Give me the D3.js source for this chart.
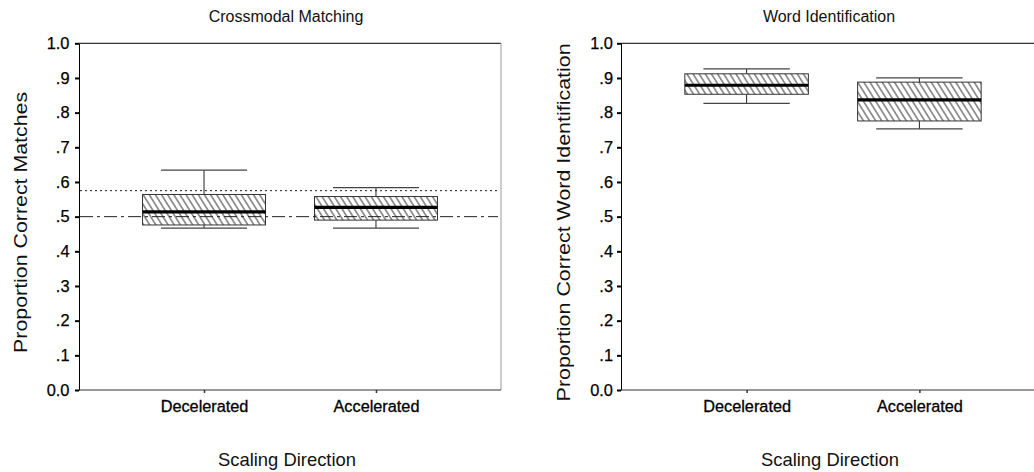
<!DOCTYPE html>
<html>
<head>
<meta charset="utf-8">
<script src="https://cdn.jsdelivr.net/npm/d3@7/dist/d3.min.js"></script>
<style>
  html, body { margin: 0; padding: 0; background: #fff; overflow: hidden; }
  svg { display: block; font-family: "Liberation Sans", Arial, sans-serif; }
</style>
</head>
<body>
<svg id="chart" width="1034" height="472"></svg>
<script>
// Scaling direction conditions
const categories = ["Decelerated", "Accelerated"];

// Crossmodal matching: box-plot summaries (proportion correct)
const matchingLow    = [0.467, 0.467];
const matchingQ1     = [0.476, 0.490];
const matchingMedian = [0.514, 0.527];
const matchingQ3     = [0.564, 0.558];
const matchingHigh   = [0.634, 0.584];

// Word identification: box-plot summaries (proportion correct)
const wordLow    = [0.827, 0.753];
const wordQ1     = [0.853, 0.776];
const wordMedian = [0.879, 0.837];
const wordQ3     = [0.912, 0.888];
const wordHigh   = [0.926, 0.900];

// Reference levels on the matching panel: chance and criterion
const chanceLevel = 0.5;
const criterionLevel = 0.575;

// Y axis ticks
const yTicks = [0, 0.1, 0.2, 0.3, 0.4, 0.5, 0.6, 0.7, 0.8, 0.9, 1.0];
const yTickLabels = ["0.0", ".1", ".2", ".3", ".4", ".5", ".6", ".7", ".8", ".9", "1.0"];

const titles = ["Crossmodal Matching", "Word Identification"];
const yLabels = ["Proportion Correct Matches", "Proportion Correct Word Identification"];
const xLabel = "Scaling Direction";

function summaries(low, q1, med, q3, high) {
  return categories.map((c, i) => ({ cat: c, low: low[i], q1: q1[i], med: med[i], q3: q3[i], high: high[i] }));
}

const panels = [
  {
    title: titles[0], ylabel: yLabels[0], left: 79, right: 501,
    yLabelX: 26.5, yLabelLen: 261, tickPad: 5.5,
    boxes: summaries(matchingLow, matchingQ1, matchingMedian, matchingQ3, matchingHigh),
    refs: [
      { v: criterionLevel, dash: "2,3" },
      { v: chanceLevel, dash: "13,4,3,4" }
    ]
  },
  {
    title: titles[1], ylabel: yLabels[1], left: 621, right: 1045,
    yLabelX: 569.5, yLabelLen: 358, tickPad: 4,
    boxes: summaries(wordLow, wordQ1, wordMedian, wordQ3, wordHigh),
    refs: []
  }
];

const plotTop = 43.3, plotBottom = 390;
const svg = d3.select("#chart");

// Diagonal hatch fill for boxes
const defs = svg.append("defs");
const hp = 5.2;
const pat = defs.append("pattern")
  .attr("id", "hatch")
  .attr("patternUnits", "userSpaceOnUse")
  .attr("width", hp).attr("height", hp)
  .attr("patternTransform", "rotate(-32)");
pat.append("rect").attr("width", hp).attr("height", hp).attr("fill", "#fff");
pat.append("line")
  .attr("x1", hp / 2).attr("y1", -1).attr("x2", hp / 2).attr("y2", hp + 1)
  .attr("stroke", "#222").attr("stroke-width", 0.9);

const y = d3.scaleLinear().domain([0, 1]).range([plotBottom, plotTop]);

panels.forEach(p => {
  const g = svg.append("g");
  const x = d3.scalePoint().domain(categories).range([p.left, p.right]).padding(0.727);
  const step = x.step();
  const boxW = step * 0.715;
  const capW = step * 0.5;
  const cx = (p.left + p.right) / 2;

  // frame: top black, right grey
  g.append("line").attr("x1", p.left).attr("x2", p.right).attr("y1", plotTop).attr("y2", plotTop)
    .attr("stroke", "#000").attr("stroke-width", 1);
  g.append("line").attr("x1", p.right).attr("x2", p.right).attr("y1", plotTop).attr("y2", plotBottom)
    .attr("stroke", "#9a9a9a").attr("stroke-width", 1);

  // boxes
  const b = g.selectAll("g.box").data(p.boxes).join("g").attr("class", "box");
  // whisker stems
  b.append("line").attr("x1", d => x(d.cat)).attr("x2", d => x(d.cat))
    .attr("y1", d => y(d.high)).attr("y2", d => y(d.q3))
    .attr("stroke", "#222").attr("stroke-width", 1);
  b.append("line").attr("x1", d => x(d.cat)).attr("x2", d => x(d.cat))
    .attr("y1", d => y(d.q1)).attr("y2", d => y(d.low))
    .attr("stroke", "#222").attr("stroke-width", 1);
  // whisker caps
  b.append("line").attr("x1", d => x(d.cat) - capW / 2).attr("x2", d => x(d.cat) + capW / 2)
    .attr("y1", d => y(d.high)).attr("y2", d => y(d.high))
    .attr("stroke", "#444").attr("stroke-width", 1.2);
  b.append("line").attr("x1", d => x(d.cat) - capW / 2).attr("x2", d => x(d.cat) + capW / 2)
    .attr("y1", d => y(d.low)).attr("y2", d => y(d.low))
    .attr("stroke", "#444").attr("stroke-width", 1.2);
  // hatched box
  b.append("rect")
    .attr("x", d => x(d.cat) - boxW / 2).attr("width", boxW)
    .attr("y", d => y(d.q3)).attr("height", d => y(d.q1) - y(d.q3))
    .attr("fill", "url(#hatch)").attr("stroke", "#333").attr("stroke-width", 1);

  // reference lines
  g.selectAll("line.ref").data(p.refs).join("line").attr("class", "ref")
    .attr("x1", p.left + 1).attr("x2", p.right - 3)
    .attr("y1", d => y(d.v)).attr("y2", d => y(d.v))
    .attr("stroke", "#222").attr("stroke-width", 1)
    .attr("stroke-dasharray", d => d.dash);

  // medians
  b.append("line").attr("x1", d => x(d.cat) - boxW / 2).attr("x2", d => x(d.cat) + boxW / 2)
    .attr("y1", d => y(d.med)).attr("y2", d => y(d.med))
    .attr("stroke", "#000").attr("stroke-width", 3.2);

  // y axis
  const ya = g.append("g").attr("transform", `translate(${p.left},0)`)
    .call(d3.axisLeft(y).tickValues(yTicks).tickFormat((d, i) => yTickLabels[i])
      .tickSize(4).tickSizeOuter(0).tickPadding(p.tickPad));
  ya.select(".domain").attr("stroke", "#000").attr("stroke-width", 1);
  ya.selectAll(".tick line").attr("stroke", "#000").attr("stroke-width", 2);
  ya.selectAll(".tick text").attr("font-size", 16.4).attr("fill", "#000")
    .attr("stroke", "#000").attr("stroke-width", 0.25)
    .attr("font-family", "Liberation Sans, Arial, sans-serif");

  // x axis
  const xa = g.append("g").attr("transform", `translate(0,${plotBottom})`)
    .call(d3.axisBottom(x).tickSize(3).tickSizeOuter(0).tickPadding(7.5));
  xa.select(".domain").attr("stroke", "#333").attr("stroke-width", 1.2)
    .attr("d", `M${p.left},0H${p.right}`);
  xa.selectAll(".tick line").attr("stroke", "#333").attr("stroke-width", 1.5);
  xa.selectAll(".tick text").attr("font-size", 16.3).attr("fill", "#000")
    .attr("stroke", "#000").attr("stroke-width", 0.3)
    .attr("font-family", "Liberation Sans, Arial, sans-serif");

  // title
  g.append("text").attr("x", cx - 4).attr("y", 22).attr("text-anchor", "middle")
    .attr("font-size", 16).attr("fill", "#111").text(p.title);

  // x label
  g.append("text").attr("x", cx - 3).attr("y", 466).attr("text-anchor", "middle")
    .attr("font-size", 18.4).attr("fill", "#111").text(xLabel);

  // y label
  g.append("text")
    .attr("transform", `translate(${p.yLabelX},222.4) rotate(-90)`)
    .attr("text-anchor", "middle")
    .attr("font-size", 19)
    .attr("textLength", p.yLabelLen).attr("lengthAdjust", "spacingAndGlyphs")
    .attr("fill", "#111").text(p.ylabel);
});
</script>
</body>
</html>
